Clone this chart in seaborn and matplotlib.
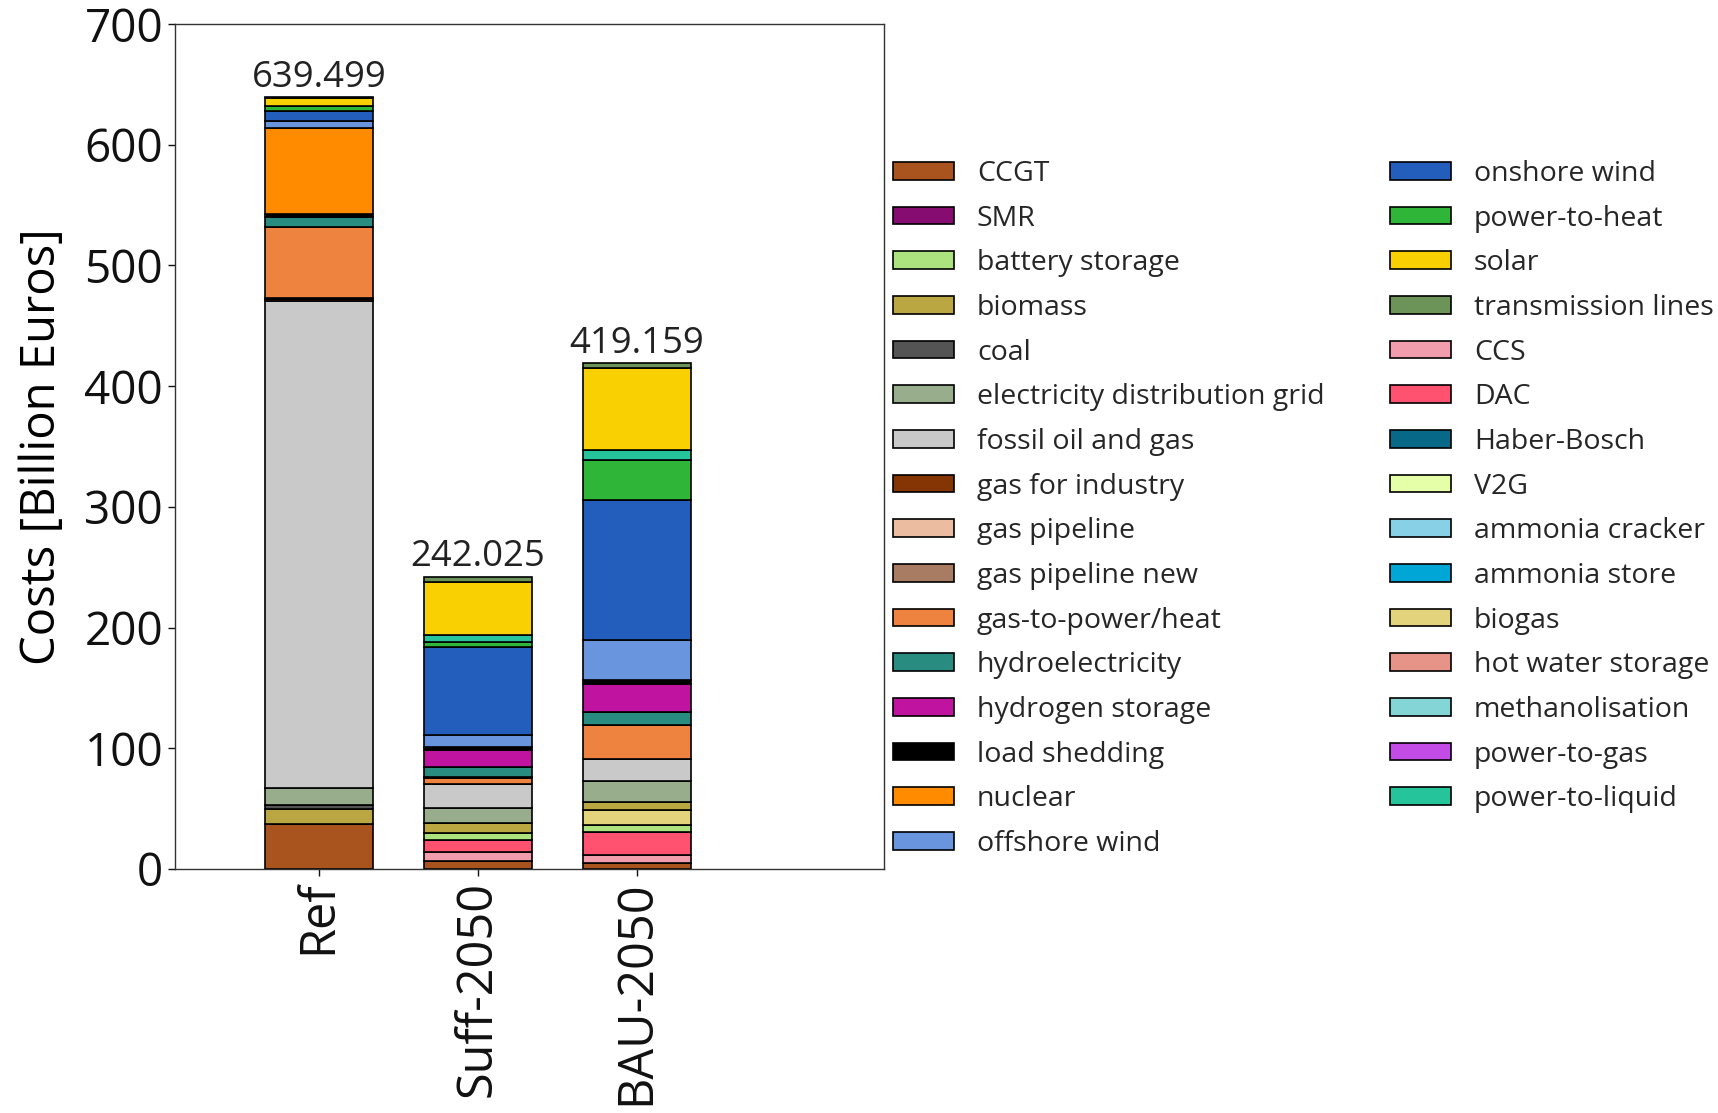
import matplotlib
matplotlib.use("Agg")
import matplotlib.pyplot as plt
import seaborn as sns
import numpy as np
from matplotlib.patches import Patch

scenarios = ["Ref", "Suff-2050", "BAU-2050"]
totals = [639.499, 242.025, 419.159]

# technologies in stacking order (bottom -> top)
technologies = [
    "CCGT", "CCS", "DAC", "Haber-Bosch", "SMR", "V2G", "ammonia cracker",
    "ammonia store", "battery storage", "biogas", "biomass", "coal",
    "electricity distribution grid", "fossil oil and gas", "gas for industry",
    "gas pipeline", "gas pipeline new", "gas-to-power/heat", "hot water storage",
    "hydroelectricity", "hydrogen storage", "load shedding", "methanolisation",
    "nuclear", "offshore wind", "onshore wind", "power-to-gas", "power-to-heat",
    "power-to-liquid", "solar", "transmission lines",
]

ref_costs = [37.3, 0, 0, 0, 0, 0, 0, 0, 0.3, 0, 11.8, 3.3, 14.6, 403.6, 1.2,
             0.5, 0.5, 59.0, 0, 7.7, 0, 2.8, 0, 71.3, 5.5, 8.8, 0, 3.6, 0, 7.1, 0.6]
suff_costs = [6.3, 7.5, 10.2, 0, 0, 0, 0, 0, 6.1, 0, 8.0, 0, 12.4, 19.6, 0,
              0, 0, 5.0, 1.4, 8.2, 13.9, 2.8, 0, 0, 9.4, 73.2, 0, 4.4, 5.8, 43.9, 3.9]
bau_costs = [5.0, 6.8, 18.8, 0, 0, 0, 0, 0, 6.1, 11.8, 6.7, 0, 18.0, 18.2, 0,
             0, 0, 28.1, 0, 10.2, 23.6, 3.5, 0, 0, 33.2, 115.9, 0, 33.2, 7.7, 68.2, 4.2]

tech_colors = [
    "#a9541e", "#f29dae", "#ff5270", "#076987", "#870c71", "#e5ffa8", "#87d0e6",
    "#00a6d6", "#ace37f", "#e3d37d", "#baa741", "#545454",
    "#97ad8c", "#c9c9c9", "#853403",
    "#ebbca0", "#a87c62", "#ee8340", "#e69487",
    "#298c81", "#bf13a0", "#000000", "#83d6d5",
    "#ff8c00", "#6895dd", "#235ebc", "#c44ce6", "#2fb537",
    "#25c49a", "#f9d002", "#6c9459",
]

legend_order = [
    "CCGT", "SMR", "battery storage", "biomass", "coal",
    "electricity distribution grid", "fossil oil and gas", "gas for industry",
    "gas pipeline", "gas pipeline new", "gas-to-power/heat", "hydroelectricity",
    "hydrogen storage", "load shedding", "nuclear", "offshore wind",
    "onshore wind", "power-to-heat", "solar", "transmission lines", "CCS", "DAC",
    "Haber-Bosch", "V2G", "ammonia cracker", "ammonia store", "biogas",
    "hot water storage", "methanolisation", "power-to-gas", "power-to-liquid",
]

plt.rcParams["font.family"] = ["Open Sans", "DejaVu Sans"]

W, H = 1718, 1113
fig = plt.figure(figsize=(W / 100, H / 100), dpi=100)
ax = fig.add_axes([175 / W, 1 - 869 / H, (884 - 175) / W, (869 - 24) / H])

values = np.array([ref_costs, suff_costs, bau_costs])  # scenario x tech
bottoms = np.zeros(len(scenarios))
color_map = dict(zip(technologies, tech_colors))
for j, tech in enumerate(technologies):
    heights = values[:, j]
    sns.barplot(x=scenarios, y=heights, order=scenarios, bottom=bottoms,
                color=color_map[tech], saturation=1, errorbar=None,
                edgecolor="black", linewidth=1.2, width=0.68, ax=ax)
    bottoms = bottoms + heights

ax.bar_label(ax.containers[-1], labels=[f"{t:.3f}" for t in totals],
             padding=1, fontsize=26.3, color="#222222")

ax.set_xlim(-0.905, 3.557)
ax.set_ylim(0, 700)
ax.set_yticks(range(0, 701, 100))
ax.tick_params(axis="both", length=5, width=1, colors="#111111")
ax.tick_params(axis="y", labelsize=33)
ax.tick_params(axis="x", labelsize=35, labelrotation=90)
ax.set_xlabel("")
ax.set_ylabel("Costs [Billion Euros]", fontsize=34, labelpad=13)
for s in ax.spines.values():
    s.set_linewidth(1.0)
    s.set_color("#333333")

handles = [Patch(facecolor=color_map[t], edgecolor="black", linewidth=1.2)
           for t in legend_order]
leg = fig.legend(handles, legend_order, loc="upper left",
                 bbox_to_anchor=(893 / W, 1 - 160 / H), ncol=2, frameon=False,
                 handlelength=2.15, handleheight=0.58,
                 handletextpad=0.8, columnspacing=2.3, labelspacing=0.585,
                 borderpad=0, borderaxespad=0,
                 prop={"family": ["Open Sans", "DejaVu Sans"], "size": 20.5})
for txt in leg.get_texts():
    txt.set_color("#262626")

fig.savefig("out.png", dpi=100)
